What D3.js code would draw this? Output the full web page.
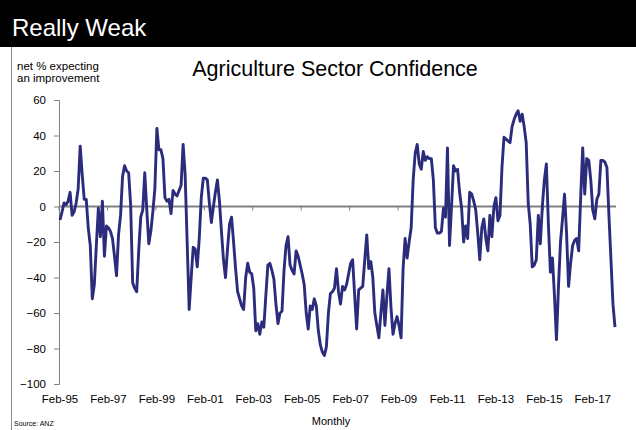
<!DOCTYPE html>
<html>
<head>
<meta charset="utf-8">
<script src="https://cdn.jsdelivr.net/npm/d3@7"></script>
<style>
  body { margin: 0; background: #fff; }
  svg { display: block; font-family: "Liberation Sans", Arial, sans-serif; }
</style>
</head>
<body>
<div id="vis"></div>
<script>
// net % expecting an improvement, monthly from Feb-95
var confidence = [
  -7.5, -3, 2, 1, 3, 8, -5, -3, 2, 10, 34, 18, 4, 4, -12, -22, -52, -44, -22, -1,
  -17, 3, -28, -11, -12, -14, -18, -28, -39, -16, -5, 17, 23, 20, 19, 1, -43, -46, -48, -25,
  -6, -2, 19, -2, -21, -14, -3, 10, 44, 32, 32, 27, 5, 3, 4, -4, 9, 7, 6, 9,
  12, 35, 18, -20, -58, -40, -23, -24, -34, -18, 5, 16, 16, 15, 2, -9, 0, 8, 15, 3,
  -14, -30, -40, -24, -10, -6, -20, -35, -48, -52, -56, -58, -40, -32, -37, -38, -46, -70, -66, -72,
  -65, -68, -50, -33, -32, -36, -41, -55, -66, -60, -59, -36, -22, -17, -33, -36, -38, -25, -28, -33,
  -38, -44, -60, -69, -56, -58, -52, -56, -70, -78, -82, -84, -79, -60, -49, -48, -46, -35, -48, -55,
  -45, -47, -44, -38, -32, -30, -50, -69, -47, -46, -45, -30, -16, -35, -31, -40, -60, -67, -74, -60,
  -47, -67, -50, -35, -57, -72, -66, -62, -67, -74, -35, -18, -29, -20, -12, 15, 30, 35, 24, 21,
  31, 26, 28, 27, 27, 15, -12, -15, -15, -14, -1, -6, 33, -22, 0, 23, 20, 21, 8, -1,
  -20, -11, -18, 8, 7, 3, -2, -15, -30, -12, -7, -18, -25, -5, -17, 0, 5, -8, -5, 22,
  39, 38, 37, 36, 45, 49, 52, 54, 48, 52, 45, 36, 2, -10, -34, -33, -30, -5, -21, 0,
  15, 24, -10, -37, -29, -50, -75, -45, -20, -7, 7, -15, -45, -32, -22, -19, -18, -25, 5, 33,
  7, 27, 26, 15, -2, -7, 4, 7, 26, 26, 25, 22, -5, -30, -55, -68
];

var xTickLabels = ['Feb-95', 'Feb-97', 'Feb-99', 'Feb-01', 'Feb-03', 'Feb-05',
  'Feb-07', 'Feb-09', 'Feb-11', 'Feb-13', 'Feb-15', 'Feb-17'];
var yTicks = [-100, -80, -60, -40, -20, 0, 20, 40, 60];

var headline = 'Really Weak';
var chartTitle = 'Agriculture Sector Confidence';
var yTitle = ['net % expecting', 'an improvement'];

var width = 636;
var height = 430;

var svg = d3.select('#vis')
  .append('svg')
  .attr('width', width)
  .attr('height', height);

// black header
svg.append('rect')
  .attr('x', 0).attr('y', 0)
  .attr('width', width).attr('height', 47)
  .attr('fill', '#000');

svg.append('text')
  .attr('x', 12).attr('y', 36)
  .attr('fill', '#fff')
  .style('font-size', '24px')
  .text(headline);

// left frame line
svg.append('line')
  .attr('x1', 11.5).attr('x2', 11.5)
  .attr('y1', 47).attr('y2', height)
  .attr('stroke', '#8c8c8c')
  .attr('stroke-width', 1);

var x = d3.scaleBand()
  .domain(d3.range(confidence.length))
  .range([59, 616]);

var y = d3.scaleLinear()
  .domain([-100, 60])
  .range([384, 100]);

function cx(i) { return x(i) + x.bandwidth() / 2; }

// y axis
var yAxis = d3.axisLeft(y)
  .tickValues(yTicks)
  .tickSize(5)
  .tickPadding(8);

var gy = svg.append('g')
  .attr('transform', 'translate(59,0)')
  .call(yAxis);
gy.select('.domain').attr('stroke', '#808080');
gy.selectAll('.tick line').attr('stroke', '#808080');
gy.selectAll('.tick text')
  .attr('fill', '#000')
  .style('font-size', '11.5px')
  .style('font-family', '"Liberation Sans", Arial, sans-serif');

// zero line with tick marks every 24 months
svg.append('line')
  .attr('x1', 59).attr('x2', 616)
  .attr('y1', y(0)).attr('y2', y(0))
  .attr('stroke', '#808080')
  .attr('stroke-width', 2);

var tickIdx = d3.range(0, confidence.length, 24);
svg.selectAll('.xtick')
  .data(tickIdx)
  .enter().append('line')
  .attr('class', 'xtick')
  .attr('x1', function (d) { return x(d); })
  .attr('x2', function (d) { return x(d); })
  .attr('y1', y(0))
  .attr('y2', y(0) + 4)
  .attr('stroke', '#808080');

// category labels along the bottom
svg.selectAll('.xlabel')
  .data(xTickLabels)
  .enter().append('text')
  .attr('class', 'xlabel')
  .attr('x', function (d, i) { return cx(i * 24); })
  .attr('y', 403)
  .attr('text-anchor', 'middle')
  .style('font-size', '11.5px')
  .text(function (d) { return d; });

// the series
var line = d3.line()
  .x(function (d, i) { return cx(i); })
  .y(function (d) { return y(d); });

svg.append('path')
  .datum(confidence)
  .attr('d', line)
  .attr('fill', 'none')
  .attr('stroke', '#2b2d7c')
  .attr('stroke-width', 2.9)
  .attr('stroke-linejoin', 'round');

// titles
svg.append('text')
  .attr('x', 335).attr('y', 76)
  .attr('text-anchor', 'middle')
  .style('font-size', '21.5px')
  .text(chartTitle);

svg.selectAll('.ytitle')
  .data(yTitle)
  .enter().append('text')
  .attr('class', 'ytitle')
  .attr('x', 17)
  .attr('y', function (d, i) { return 70 + i * 12; })
  .style('font-size', '11.5px')
  .text(function (d) { return d; });

svg.append('text')
  .attr('x', 331).attr('y', 425)
  .attr('text-anchor', 'middle')
  .style('font-size', '11px')
  .text('Monthly');

svg.append('text')
  .attr('x', 14).attr('y', 426)
  .style('font-size', '7px')
  .text('Source: ANZ');
</script>
</body>
</html>
